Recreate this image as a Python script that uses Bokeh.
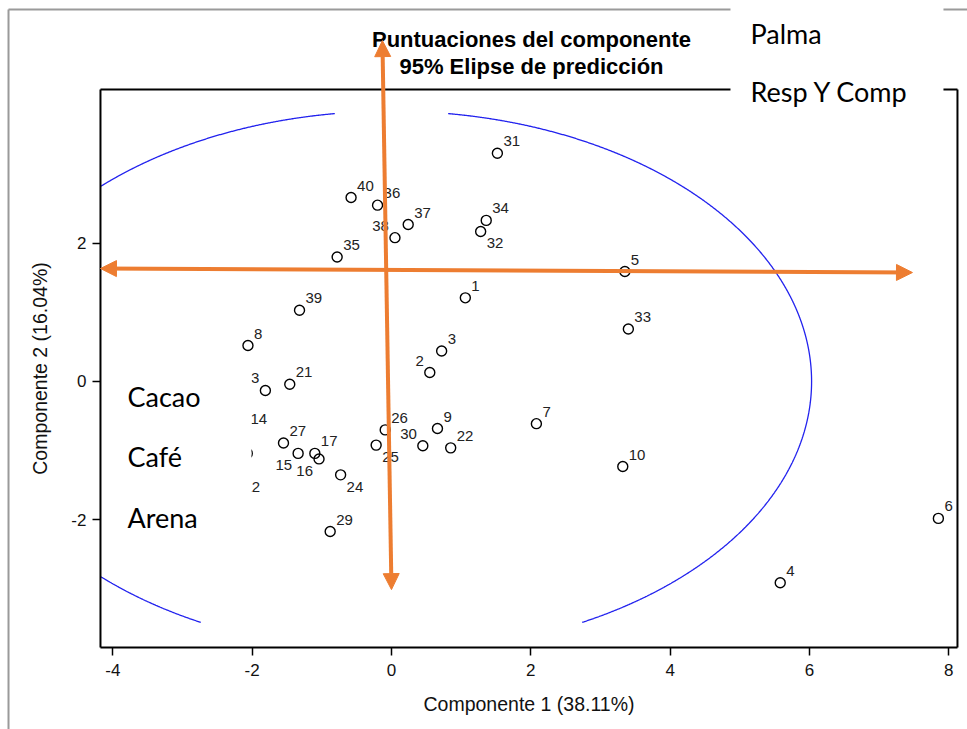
import numpy as np
from bokeh.plotting import figure
from bokeh.models import Label, Arrow, NormalHead, FixedTicker, ColumnDataSource
from bokeh.embed import file_html
from bokeh.resources import INLINE
from bokeh.core.properties import value

# ---------------- data (component scores) ----------------
ids = [1, 2, 3, 4, 5, 6, 7, 8, 9, 10, 11, 12, 13, 14, 15, 16, 17, 21, 22, 24, 25,
       26, 27, 29, 30, 31, 32, 33, 34, 35, 36, 37, 38, 39, 40]
pc1 = [1.06, 0.55, 0.72, 5.58, 3.35, 7.85, 2.08, -2.06, 0.66, 3.32, -2.07, -2.21, -1.81, -2.11, -1.34, -1.04, -1.10, -1.46, 0.85, -0.73, -0.22,
       -0.09, -1.55, -0.88, 0.45, 1.52, 1.28, 3.40, 1.36, -0.78, -0.20, 0.24, 0.05, -1.32, -0.58]
pc2 = [1.21, 0.13, 0.44, -2.91, 1.59, -1.98, -0.61, 0.52, -0.68, -1.23, -1.04, -1.70, -0.13, -0.72, -1.04, -1.12, -1.04, -0.04, -0.96, -1.35, -0.92,
       -0.70, -0.89, -2.17, -0.93, 3.30, 2.17, 0.76, 2.33, 1.80, 2.55, 2.27, 2.08, 1.03, 2.66]
# label placement relative to point: ur, ul, lr, ll
label_pos = ["ur", "ul", "ur", "ur", "ur", "ur", "ur", "ur", "ur", "ur", "ll", "ur", "ul", "ur", "ll", "ll", "ur", "ur", "ur", "lr", "lr",
             "ur", "ur", "ur", "ul", "ur", "lr", "ur", "ur", "ur", "ur", "ur", "ul", "ur", "ur"]

x_ticks = [-4, -2, 0, 2, 4, 6, 8]
y_ticks = [-2, 0, 2]

title_lines = ["Puntuaciones del componente", "95% Elipse de predicción"]
x_title = "Componente 1 (38.11%)"
y_title = "Componente 2 (16.04%)"
top_box_texts = ["Palma", "Resp Y Comp"]
left_box_texts = ["Cacao", "Café", "Arena"]

# prediction ellipse (centre 0,0), semi-axes, visible y band
ELL_A, ELL_B = 6.03, 3.91
ELL_YMIN, ELL_YMAX = -3.484, 3.875

# data extent of the plotted frame, and of the whole picture
X_FRAME = (-4.177, 8.124)
Y_FRAME = (-3.847, 4.223)
X_CANVAS = (-5.612, 8.268)
Y_CANVAS = (-5.033, 5.510)

ORANGE = "#ED7D31"
ARIAL = "Liberation Sans"
CALIBRI = "Lato"

p = figure(width=967, height=729, x_range=X_CANVAS, y_range=Y_CANVAS,
           output_backend="svg", toolbar_location=None,
           min_border_left=0, min_border_right=0, min_border_top=0, min_border_bottom=0)
p.background_fill_color = "white"
p.border_fill_color = "white"
p.outline_line_color = None
p.grid.visible = False

for ax in (p.xaxis[0], p.yaxis[0]):
    ax.axis_line_color = None
    ax.major_tick_line_color = "black"
    ax.major_tick_line_width = 1.5
    ax.major_tick_out = 8
    ax.major_tick_in = 0
    ax.minor_tick_line_color = None
    ax.major_label_text_font = ARIAL
    ax.major_label_text_font_size = "17px"
    ax.major_label_text_color = "#111111"
    ax.axis_label_text_font = ARIAL
    ax.axis_label_text_font_size = "19.5px"
    ax.axis_label_text_font_style = "normal"
    ax.axis_label_text_color = "#111111"

p.xaxis[0].fixed_location = Y_FRAME[0]
p.yaxis[0].fixed_location = X_FRAME[0]
p.xaxis[0].bounds = X_FRAME
p.yaxis[0].bounds = Y_FRAME
p.xaxis.ticker = FixedTicker(ticks=x_ticks)
p.yaxis.ticker = FixedTicker(ticks=y_ticks)
p.xaxis.major_label_overrides = {t: str(t) for t in x_ticks}
p.yaxis.major_label_overrides = {t: str(t) for t in y_ticks}
p.xaxis.axis_label = x_title
p.yaxis.axis_label = y_title
p.xaxis.major_label_standoff = 9
p.yaxis.major_label_standoff = 6
p.xaxis.axis_label_standoff = 13
p.yaxis.axis_label_standoff = 17

# ellipse, limited to the visible band and the frame
t = np.linspace(0, 2 * np.pi, 2881)
ex = ELL_A * np.cos(t)
ey = ELL_B * np.sin(t)
mask = (ey <= ELL_YMAX) & (ey >= ELL_YMIN) & (ex >= X_FRAME[0]) & (ex <= X_FRAME[1])
segs_x, segs_y = [], []
cur_x, cur_y = [], []
for xx, yy, m in zip(ex, ey, mask):
    if m:
        cur_x.append(xx); cur_y.append(yy)
    elif cur_x:
        segs_x.append(cur_x); segs_y.append(cur_y); cur_x, cur_y = [], []
if cur_x:
    if segs_x and mask[0]:
        segs_x[0] = cur_x + segs_x[0]; segs_y[0] = cur_y + segs_y[0]
    else:
        segs_x.append(cur_x); segs_y.append(cur_y)
p.multi_line(segs_x, segs_y, line_color="#2222EE", line_width=1.3)

# points and labels
offs = {"ur": (6, -12, "left"), "ul": (-6, -12, "right"), "lr": (6, 12, "left"), "ll": (-6, 12, "right")}
src = ColumnDataSource(dict(
    x=pc1, y=pc2, lab=[str(i) for i in ids],
    xo=[offs[k][0] for k in label_pos], yo=[offs[k][1] for k in label_pos],
    al=[offs[k][2] for k in label_pos]))
p.scatter("x", "y", source=src, marker="circle", size=10, fill_color=None,
          line_color="black", line_width=1.4)
p.text("x", "y", text="lab", source=src, x_offset="xo", y_offset="yo", text_align="al",
       text_baseline="middle", text_font=value(ARIAL), text_font_size="15px", text_color="#222222")

# white box over left part (legend-like texts)
p.quad(left=[X_FRAME[0]], right=[-2.01], top=[0.30], bottom=[-2.40],
       fill_color="white", line_color=None)

# frame and outer border (drawn as segments)
def seg(x0, y0, x1, y1, color, width):
    p.add_layout(Arrow(x_start=x0, y_start=y0, x_end=x1, y_end=y1, start=None, end=None,
                       line_color=color, line_width=width))

xl, xr = X_FRAME
yb, yt = Y_FRAME
seg(xl, yb, xr, yb, "black", 2)
seg(xl, yb, xl, yt, "black", 2)
seg(xr, yb, xr, yt, "black", 2)
seg(xl, yt, 4.866, yt, "black", 2)
seg(7.923, yt, xr, yt, "black", 2)
seg(-5.497, 5.38, -5.497, Y_CANVAS[0], "#9a9a9a", 2)
seg(-5.497, 5.38, 4.866, 5.38, "#9a9a9a", 2)
seg(7.923, 5.38, X_CANVAS[1], 5.38, "#9a9a9a", 2)

# texts
for txt, yy in zip(title_lines, [4.945, 4.555]):
    p.add_layout(Label(x=2.01, y=yy, text=txt, text_align="center", text_baseline="middle",
                       text_font=ARIAL, text_font_style="bold", text_font_size="22px",
                       text_color="black"))
for txt, yy in zip(top_box_texts, [5.034, 4.195]):
    p.add_layout(Label(x=5.153, y=yy, text=txt, text_align="left", text_baseline="middle",
                       text_font=CALIBRI, text_font_size="27px", text_color="black"))
for txt, yy in zip(left_box_texts, [-0.217, -1.085, -1.967]):
    p.add_layout(Label(x=-3.789, y=yy, text=txt, text_align="left", text_baseline="middle",
                       text_font=CALIBRI, text_font_size="27px", text_color="black"))

# orange arrows
p.add_layout(Arrow(x_start=0.0, y_start=-3.01, x_end=-0.13, y_end=4.93,
                   line_color=ORANGE, line_width=4,
                   start=NormalHead(size=16, fill_color=ORANGE, line_color=ORANGE),
                   end=NormalHead(size=16, fill_color=ORANGE, line_color=ORANGE)))
p.add_layout(Arrow(x_start=-4.177, y_start=1.634, x_end=7.478, y_end=1.576,
                   line_color=ORANGE, line_width=4,
                   start=NormalHead(size=16, fill_color=ORANGE, line_color=ORANGE),
                   end=NormalHead(size=16, fill_color=ORANGE, line_color=ORANGE)))

open("out.html", "w").write(file_html(p, INLINE))
